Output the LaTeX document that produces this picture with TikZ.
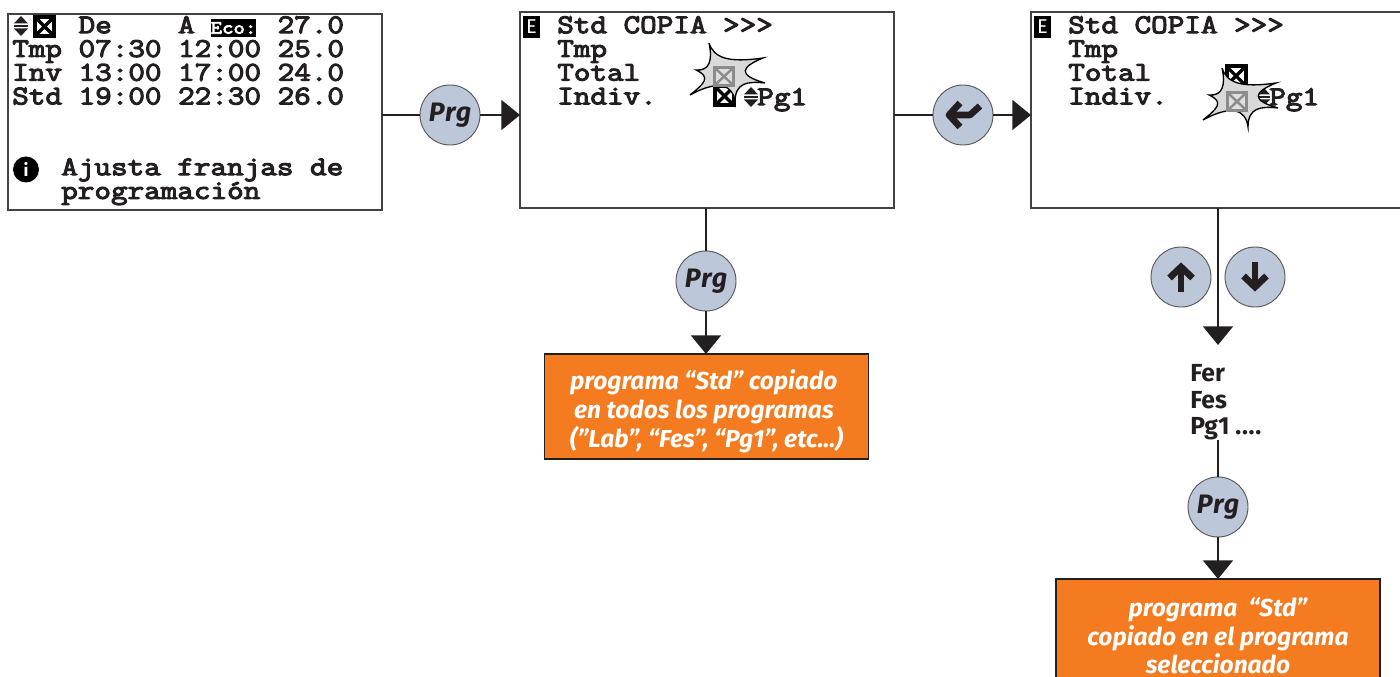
\documentclass[tikz,border=0pt]{standalone}
\usepackage{fontspec}
\setmainfont{Fira Sans}
\newfontfamily\lcdfont[FakeStretch=1.19,FakeBold=4]{Latin Modern Mono}
\newfontfamily\btnfont[LetterSpace=4]{Fira Sans}
\usetikzlibrary{arrows.meta,positioning,calc}

\definecolor{btnblue}{HTML}{BDC7DA}
\definecolor{boxorange}{HTML}{F47B20}
\definecolor{inkblack}{HTML}{231F20}
\newcommand{\pushdown}{\rule{0pt}{22pt}}

\tikzset{
    screen/.style={draw=inkblack!85,line width=.9pt,rectangle,anchor=north west,inner sep=0pt,outer sep=0pt,
        minimum width=280.5pt,minimum height=147pt},
    lcdtext/.style={anchor=north west,inner sep=0pt,align=left,text=inkblack,
        font=\lcdfont\fontsize{20.3}{17.8}\selectfont},
    btn/.style={circle,draw=inkblack!75,line width=.7pt,fill=btnblue,minimum size=45pt,inner sep=0pt,
        text=inkblack,font=\btnfont\bfseries\itshape\fontsize{20}{24}\selectfont},
    result/.style={rectangle,draw=inkblack,line width=1pt,fill=boxorange,minimum width=243pt,inner sep=0pt,outer sep=0pt,
        align=center,text=white,font=\bfseries\itshape\fontsize{18.4}{21.6}\selectfont},
    link/.style={line width=1.4pt,draw=inkblack},
    linkarrow/.style={link,-{Triangle[length=14pt,width=22.5pt,fill=inkblack]}},
    modebox/.style={rectangle,fill=black,text=white,inner sep=0pt,minimum width=12.75pt,minimum height=16.5pt,
        font=\fontsize{15}{15}\selectfont},
    xbox/.pic={
        \fill[black] (-11.5,-11.5) rectangle (11.5,11.5);
        \fill[white] (-7.5,-7.5) rectangle (7.5,7.5);
        \draw[black,line width=2.4pt] (-8,-8) -- (8,8) (-8,8) -- (8,-8);
    },
    updown/.pic={
        \fill[inkblack] (-7,-2.5) -- (0,-10) -- (7,-2.5) -- cycle;
        \fill[inkblack] (-7,2.5) -- (0,10) -- (7,2.5) -- cycle;
        \fill[inkblack] (-7,-1) rectangle (7,1);
    },
    burst/.pic={
        \draw[fill=gray!30,draw=black,line width=1pt] (-14,-30)
            .. controls (-9,-15) and (5,-10) .. (40,-15)
            .. controls (18,-6) and (14,2) .. (42,10)
            .. controls (24,8) and (12,10) .. (12,29)
            .. controls (10,12) and (-4,6) .. (-33,22)
            .. controls (-18,10) and (-12,4) .. (-27,-3)
            .. controls (-14,-2) and (-10,-12) .. cycle;
        \fill[gray!90] (-10,-7) rectangle (12,14);
        \fill[gray!25] (-7,-4) rectangle (9,11);
        \draw[gray!90,line width=1.8pt] (-7,-4) -- (9,11) (-7,11) -- (9,-4);
    },
    arrowbtn/.pic={
        \draw[inkblack,line width=5pt] (-11.5,1) -- (0,-10) -- (11.5,1);
        \draw[inkblack,line width=5pt] (0,-8) -- (0,15);
    },
    enterbtn/.pic={
        \draw[inkblack,line width=5pt,line join=round] (-3,-12) -- (-14,0) -- (-3,12);
        \draw[inkblack,line width=5pt,line join=round] (-14,0) -- (7,0) -- (17,-9);
    },
}

\begin{document}
\begin{tikzpicture}[x=0.75pt,y=-0.75pt]
    \useasboundingbox (0,0) rectangle (1400,677);

    % Screens
    \node[screen] (screenA) at (8,14) {};
    \node[screen] (screenB) at (520,12) {};
    \node[screen] (screenC) at (1031,12) {};

    % Keys
    \node[btn] (prgA) at (450,115) {Prg};
    \node[btn] (enterB) at (963,115) {};
    \node[btn] (prgB) at (706,281) {Prg};
    \node[btn] (upC) at (1181,277) {};
    \node[btn] (downC) at (1255,277) {};
    \node[btn] (prgC) at (1218,507) {Prg};
    \pic at (enterB) {enterbtn};
    \pic at (upC) {arrowbtn};
    \pic[rotate=180] at (downC) {arrowbtn};

    % Results
    \node[result,minimum height=78.75pt] (doneB) at (706.5,406.5) {\pushdown programa “Std” copiado\kern4pt\\en todos los programas\kern4pt\\(”Lab”, “Fes”, “Pg1”, etc...)};
    \node[result,minimum height=85.5pt] (doneC) at (1218,636) {programa ~“Std”\\copiado en el programa\\seleccionado};
    \node[anchor=north west,inner xsep=0pt,inner ysep=6pt,align=left,text=inkblack,
        font=\bfseries\fontsize{18.5}{20}\selectfont] (listC) at (1190,356) {Fer\\Fes\\Pg1 .\kern.6pt.\kern.6pt.\kern.6pt.};

    % Links
    \draw[link] (screenA.east |- prgA) -- (prgA);
    \draw[linkarrow] (prgA) -- (screenB.west |- prgA);
    \draw[link] (screenB.east |- enterB) -- (enterB);
    \draw[linkarrow] (enterB) -- (screenC.west |- enterB);
    \draw[link] (screenB.south -| prgB) -- (prgB);
    \draw[linkarrow] (prgB) -- (doneB.north -| prgB);
    \draw[linkarrow,shorten >=8.25pt] (screenC.south) -- (screenC.south |- listC.north);
    \draw[link,shorten <=-6pt] (listC.south -| prgC) -- (prgC);
    \draw[linkarrow] (prgC) -- (doneC.north -| prgC);

    % Text of screen A
    \pic at (21,26) {updown};
    \pic at (44.5,26.5) {xbox};
    \node[lcdtext] (rowsA) at (12,16) {~~~~De~~~~A~~~~~27.0\\Tmp 07:30 12:00 25.0\\Inv 13:00 17:00 24.0\\Std 19:00 22:30 26.0};
    \node[rectangle,fill=black,text=white,inner sep=0pt,minimum width=33.75pt,minimum height=13.5pt,
        font=\lcdfont\fontsize{14}{14}\selectfont] (ecoA) at (233.5,28) {Eco:};
    \node[circle,fill=black,text=white,inner sep=0pt,minimum size=19.5pt,
        font=\bfseries\fontsize{13}{13}\selectfont] (infoA) at (26,169.5) {i};
    \node[lcdtext] (helpA) at (61,158) {Ajusta franjas de\\programación};

    % Text of screen B
    \node[modebox] (modeB) at (531.5,27) {E};
    \node[lcdtext] (rowsB) at (557,16) {Std COPIA >>>\\Tmp\\Total\\Indiv.};
    \node[lcdtext] (pageB) at (757,88) {Pg1};
    \pic at (751,97) {updown};
    \pic at (724.5,96) {xbox};
    \pic at (723,73) {burst};

    % Text of screen C
    \node[modebox] (modeC) at (1042.5,27) {E};
    \node[lcdtext] (rowsC) at (1068,16) {Std COPIA >>>\\Tmp\\Total\\Indiv.};
    \node[lcdtext] (pageC) at (1269,88) {Pg1};
    \pic at (1263,97) {updown};
    \pic at (1236,76) {xbox};
    \pic at (1236,98) {burst};
\end{tikzpicture}
\end{document}
